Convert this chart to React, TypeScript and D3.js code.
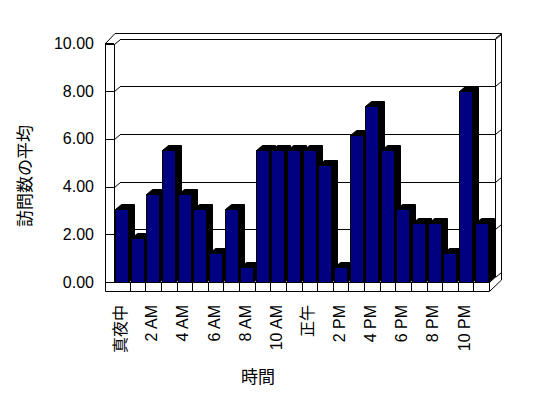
import React, { useEffect, useRef } from "react";
import * as d3 from "d3";

const hours = [
  "真夜中", "1 AM", "2 AM", "3 AM", "4 AM", "5 AM", "6 AM", "7 AM",
  "8 AM", "9 AM", "10 AM", "11 AM", "正午", "1 PM", "2 PM", "3 PM",
  "4 PM", "5 PM", "6 PM", "7 PM", "8 PM", "9 PM", "10 PM", "11 PM",
];
const visits = [
  3.08, 1.85, 3.69, 5.54, 3.69, 3.08, 1.23, 3.08, 0.62, 5.54, 5.54, 5.54,
  5.54, 4.92, 0.62, 6.15, 7.38, 5.54, 3.08, 2.46, 2.46, 1.23, 8.0, 2.46,
];
const yTicks = [0, 2, 4, 6, 8, 10];
const shownLabels = [
  "真夜中", "2 AM", "4 AM", "6 AM", "8 AM", "10 AM",
  "正午", "2 PM", "4 PM", "6 PM", "8 PM", "10 PM",
];

export default function App() {
  const ref = useRef<SVGSVGElement | null>(null);

  useEffect(() => {
    draw();
  }, []);

  function draw() {
    const width = 548;
    const height = 398;
    const font = "'Liberation Sans', 'Noto Sans CJK JP', sans-serif";

    // depth of the 3d box
    const dx = 6,
      dy = -5;
    const left = 114,
      right = 489,
      wallX = 105,
      floorBottom = 291;

    const x = d3.scaleBand<string>().domain(hours).range([left, right]).padding(0);
    const y = d3.scaleLinear().domain([0, 10]).range([282, 43.5]);

    const svg = d3.select(ref.current);
    svg.selectAll("*").remove();
    svg.attr("width", width).attr("height", height).attr("viewBox", `0 0 ${width} ${height}`);

    svg.append("rect").attr("width", width).attr("height", height).attr("fill", "white");

    const frame = svg
      .append("g")
      .attr("fill", "none")
      .attr("stroke", "black")
      .attr("stroke-width", 1)
      .attr("shape-rendering", "crispEdges");

    const top = y(10);
    const bottom = y(0);

    // outer outline of walls + floor
    frame
      .append("path")
      .attr("shape-rendering", "auto")
      .attr(
        "d",
        `M${wallX + 0.5},${floorBottom + 0.5} V${top} L${wallX + 10},${top - 10} H${right + 12.5} V${bottom - 2} L${right + 0.5},${floorBottom + 0.5} Z`
      );

    // left wall inner edge and top
    frame.append("line").attr("x1", left + 0.5).attr("x2", left + 0.5).attr("y1", top).attr("y2", bottom);
    frame.append("line").attr("x1", wallX).attr("x2", left).attr("y1", top).attr("y2", top);

    // back wall right edge
    frame
      .append("line")
      .attr("x1", right + dx + 0.5)
      .attr("x2", right + dx + 0.5)
      .attr("y1", top + dy)
      .attr("y2", bottom + dy);
    frame
      .append("path")
      .attr("shape-rendering", "auto")
      .attr("d", `M${right + dx + 0.5},${top + dy} L${right + 12.5},${top - 10}`);

    // gridlines on back wall + wall ticks
    yTicks.forEach((t) => {
      const yy = Math.round(y(t)) + 0.5;
      frame.append("line").attr("x1", left + dx).attr("x2", right + dx).attr("y1", yy + dy).attr("y2", yy + dy);
      frame.append("line").attr("x1", wallX).attr("x2", left).attr("y1", yy).attr("y2", yy);
      frame
        .append("path")
        .attr("shape-rendering", "auto")
        .attr("d", `M${left + 0.5},${yy} L${left + dx + 0.5},${yy + dy}`);
      frame
        .append("path")
        .attr("shape-rendering", "auto")
        .attr("d", `M${right + dx + 0.5},${yy + dy} L${right + 12.5},${yy + dy - 5}`);
    });

    // floor front face
    frame.append("line").attr("x1", wallX).attr("x2", right).attr("y1", bottom + 0.5).attr("y2", bottom + 0.5);
    frame.append("line").attr("x1", right + 0.5).attr("x2", right + 0.5).attr("y1", bottom).attr("y2", floorBottom);
    frame
      .append("path")
      .attr("shape-rendering", "auto")
      .attr("d", `M${right + 0.5},${bottom + 0.5} L${right + dx + 0.5},${bottom + dy}`);
    frame
      .selectAll("line.cat")
      .data(hours.slice(1))
      .join("line")
      .attr("class", "cat")
      .attr("x1", (d) => Math.round(x(d)!) + 0.5)
      .attr("x2", (d) => Math.round(x(d)!) + 0.5)
      .attr("y1", bottom)
      .attr("y2", floorBottom);

    // bars
    const bars = svg.append("g").attr("stroke", "black").attr("stroke-width", 1);
    hours.forEach((h, i) => {
      const x0 = Math.round(x(h)! + 1.2) + 0.5;
      const w = 13;
      const y0 = Math.round(y(visits[i])) + 0.5;
      const y1 = bottom + 0.5;
      bars
        .append("path")
        .attr("fill", "black")
        .attr(
          "d",
          `M${x0 + w},${y1} L${x0 + w + dx},${y1 + dy} V${y0 + dy} H${x0 + dx} L${x0},${y0} H${x0 + w} Z`
        );
      bars
        .append("rect")
        .attr("x", x0)
        .attr("y", y0)
        .attr("width", w)
        .attr("height", y1 - y0)
        .attr("fill", "#000080")
        .attr("shape-rendering", "crispEdges");
    });

    // y tick labels
    svg
      .append("g")
      .attr("font-family", font)
      .attr("font-size", 16)
      .attr("text-anchor", "end")
      .selectAll("text")
      .data(yTicks)
      .join("text")
      .attr("x", 94)
      .attr("y", (d) => y(d))
      .attr("dominant-baseline", "central")
      .text((d) => d.toFixed(2));

    // x tick labels
    svg
      .append("g")
      .attr("font-family", font)
      .attr("font-size", 16)
      .attr("text-anchor", "end")
      .selectAll("text")
      .data(shownLabels)
      .join("text")
      .attr("transform", (d) => `translate(${x(d)! + x.bandwidth() / 2 - 1.5},305) rotate(-90)`)
      .attr("dominant-baseline", "central")
      .text((d) => d);

    // axis titles
    svg
      .append("text")
      .attr("font-family", font)
      .attr("font-size", 17)
      .attr("text-anchor", "middle")
      .attr("dominant-baseline", "central")
      .attr("transform", "translate(25,176) rotate(-90)")
      .text("訪問数の平均");

    svg
      .append("text")
      .attr("font-family", font)
      .attr("font-size", 17)
      .attr("text-anchor", "middle")
      .attr("dominant-baseline", "central")
      .attr("x", 258)
      .attr("y", 377)
      .text("時間");
  }

  return (
    <div>
      <svg ref={ref} style={{ position: "absolute", left: 0, top: 0, display: "block" }}></svg>
    </div>
  );
}
